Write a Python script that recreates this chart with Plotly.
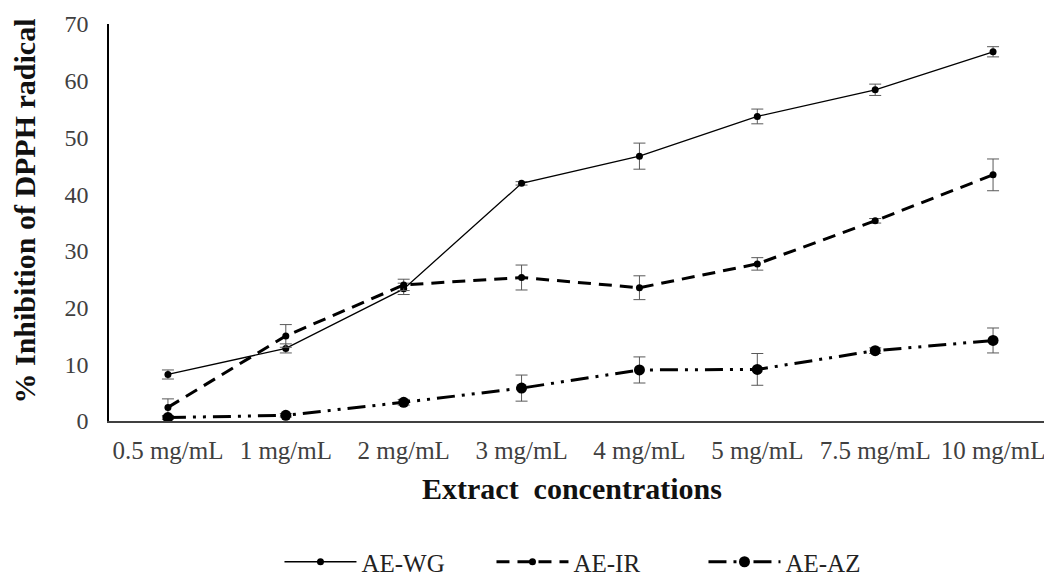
import plotly.graph_objects as go

categories = ["0.5 mg/mL", "1 mg/mL", "2 mg/mL", "3 mg/mL", "4 mg/mL", "5 mg/mL", "7.5 mg/mL", "10 mg/mL"]
wg_values = [8.2, 12.8, 23.3, 41.9, 46.7, 53.7, 58.4, 65.1]
wg_errors = [0.8, 0.8, 1.0, 0.3, 2.3, 1.3, 1.0, 0.9]
ir_values = [2.4, 15.0, 24.0, 25.3, 23.5, 27.7, 35.3, 43.4]
ir_errors = [1.5, 2.0, 1.0, 2.2, 2.1, 1.1, 0.4, 2.8]
az_values = [0.6, 1.0, 3.3, 5.8, 9.0, 9.1, 12.4, 14.2]
az_errors = [0.3, 0.3, 0.5, 2.3, 2.3, 2.8, 0.5, 2.2]
y_ticks = [0, 10, 20, 30, 40, 50, 60, 70]

err_style = dict(type="data", thickness=1, width=6, color="#595959")
font_family = "Liberation Serif, Times New Roman, serif"

fig = go.Figure()
fig.add_trace(go.Scatter(
    x=categories, y=wg_values, name="AE-WG", mode="lines+markers",
    line=dict(color="black", width=1.3),
    marker=dict(color="black", size=7),
    error_y=dict(array=wg_errors, **err_style),
))
fig.add_trace(go.Scatter(
    x=categories, y=ir_values, name="AE-IR", mode="lines+markers",
    line=dict(color="black", width=3, dash="13px,8px"),
    marker=dict(color="black", size=7),
    error_y=dict(array=ir_errors, **err_style),
))
fig.add_trace(go.Scatter(
    x=categories, y=az_values, name="AE-AZ", mode="lines+markers",
    line=dict(color="black", width=3, dash="18px,7px,3px,7px,3px,7px"),
    marker=dict(color="black", size=11),
    error_y=dict(array=az_errors, **err_style),
))

fig.update_layout(
    width=1044, height=577,
    margin=dict(l=101, r=0, t=16, b=162),
    paper_bgcolor="white", plot_bgcolor="white",
    font=dict(family=font_family, color="#404040", size=24),
    showlegend=True,
    legend=dict(
        orientation="h", x=0.518, xanchor="center", y=-0.356, yanchor="middle",
        font=dict(family=font_family, size=25, color="#222222"),
        itemwidth=72, entrywidth=125, tracegroupgap=0,
    ),
    xaxis=dict(
        type="category", range=[-0.5, 7.5],
        showline=True, linecolor="#404040", linewidth=1.5,
        showgrid=False, zeroline=False, ticks="", tickangle=0,
        tickfont=dict(family=font_family, size=25, color="#404040"),
        ticklabelstandoff=6,
    ),
    yaxis=dict(
        range=[0, 70], tickvals=y_ticks,
        showline=True, linecolor="black", linewidth=1.5,
        showgrid=False, zeroline=False, ticks="",
        tickfont=dict(family=font_family, size=24, color="#404040"),
        ticklabelstandoff=14,
    ),
    annotations=[
        dict(text="<b>Extract  concentrations</b>", xref="paper", yref="paper",
             x=0.491, y=-0.17, xanchor="center", yanchor="middle", showarrow=False,
             font=dict(family=font_family, size=30, color="#111111")),
        dict(text="<b>% Inhibition of DPPH radical</b>", xref="paper", yref="paper",
             x=-0.090, y=0.528, xanchor="center", yanchor="middle", showarrow=False,
             textangle=-90,
             font=dict(family=font_family, size=30, color="#111111")),
    ],
)

fig.write_html("out.html")
